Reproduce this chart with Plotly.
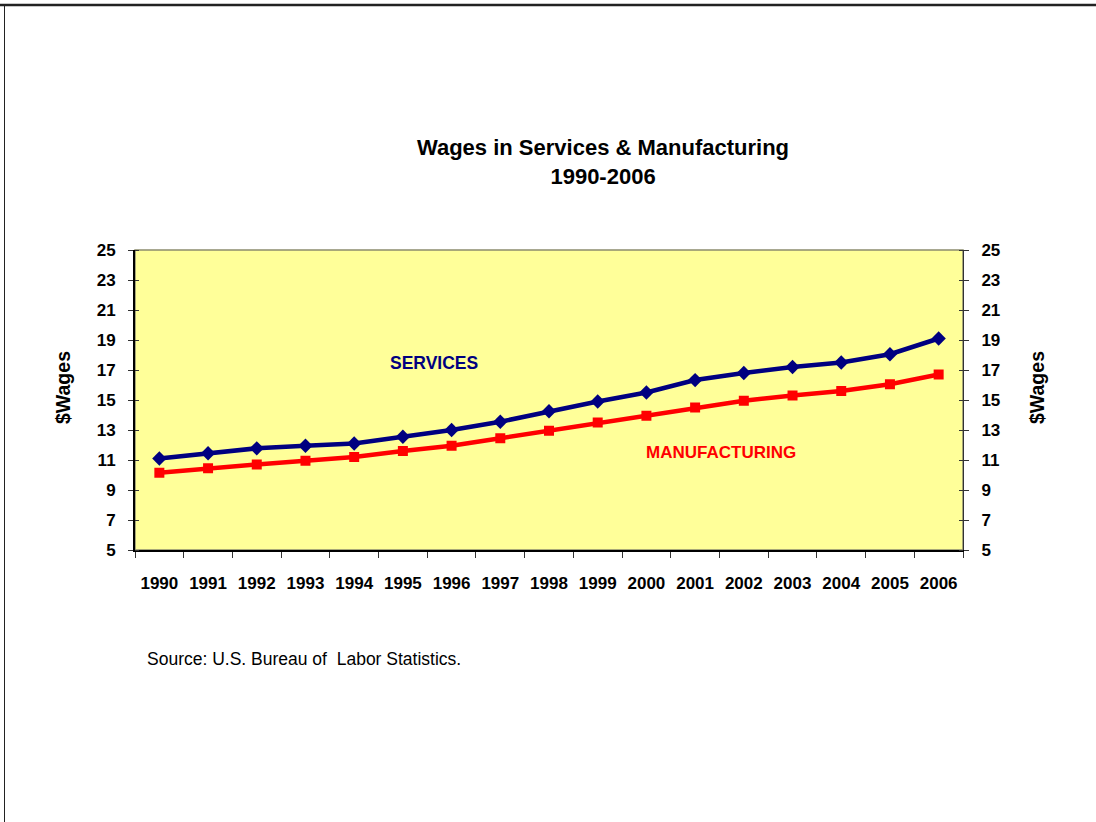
import plotly.graph_objects as go

# Average hourly wages, 1990-2006
years = [str(y) for y in range(1990, 2007)]
services = [11.1, 11.45, 11.78, 11.95, 12.1, 12.55, 13.0, 13.55, 14.25, 14.9, 15.5,
            16.33, 16.8, 17.2, 17.5, 18.05, 19.1]
manufacturing = [10.15, 10.45, 10.7, 10.95, 11.2, 11.6, 11.95, 12.45, 12.95, 13.5, 13.95,
                 14.5, 14.95, 15.3, 15.6, 16.05, 16.7]

y_ticks = list(range(5, 26, 2))

W, H = 1096, 822
L, R, T, B = 135, 963, 250, 550

SANS = "Liberation Sans, Arial, sans-serif"


def px_x(px):
    return (px - L) / (R - L)


def px_y(py):
    return (B - py) / (B - T)


fig = go.Figure()
fig.add_trace(go.Scatter(
    x=years, y=services, mode="lines+markers", name="SERVICES",
    line=dict(color="#000080", width=4.5),
    marker=dict(symbol="diamond", size=11, color="#000080"),
))
fig.add_trace(go.Scatter(
    x=years, y=manufacturing, mode="lines+markers", name="MANUFACTURING",
    line=dict(color="#FF0000", width=4.5),
    marker=dict(symbol="square", size=10, color="#FF0000"),
))

x_font = dict(family=SANS, size=17, color="black", weight="bold")
y_font = dict(family=SANS, size=17, color="black", weight="bold")

fig.update_layout(
    width=W, height=H,
    margin=dict(l=L, r=W - R, t=T, b=H - B, pad=0, autoexpand=False),
    paper_bgcolor="white",
    plot_bgcolor="#FFFF99",
    showlegend=False,
    xaxis=dict(
        type="category", range=[-0.5, len(years) - 0.5],
        showgrid=False, zeroline=False,
        showline=True, linecolor="black", linewidth=2,
        ticks="outside", tickson="boundaries", ticklen=6, tickwidth=1, tickcolor="#333",
        tickfont=x_font, tickangle=0, ticklabelstandoff=17,
    ),
    yaxis=dict(
        range=[5, 25], tickvals=y_ticks, showgrid=False, zeroline=False,
        showline=True, linecolor="black", linewidth=2,
        ticks="outside", ticklen=5, tickwidth=1, tickcolor="#333",
        minor=dict(tickvals=y_ticks, ticks="inside", ticklen=4, tickwidth=1, tickcolor="#333"),
        tickfont=y_font, ticklabelstandoff=9,
    ),
    yaxis2=dict(
        range=[5, 25], tickvals=y_ticks, overlaying="y", side="right",
        showgrid=False, zeroline=False,
        showline=True, linecolor="#333", linewidth=1,
        ticks="outside", ticklen=5, tickwidth=1, tickcolor="#333",
        minor=dict(tickvals=y_ticks, ticks="inside", ticklen=4, tickwidth=1, tickcolor="#333"),
        tickfont=y_font, ticklabelstandoff=9,
    ),
)

# invisible anchor so the right-hand axis is drawn
fig.add_trace(go.Scatter(x=[years[0]], y=[5], yaxis="y2", mode="markers",
                         marker=dict(opacity=0), hoverinfo="skip", showlegend=False))

shapes = [
    # plot-area frame (top and right edges)
    dict(type="rect", xref="paper", yref="paper", x0=0, y0=0, x1=1, y1=1,
         line=dict(color="#8c8c6e", width=1.5), layer="below"),
    # page frame
    dict(type="line", xref="paper", yref="paper", x0=px_x(0), x1=px_x(W),
         y0=px_y(5), y1=px_y(5), line=dict(color="#222", width=2.5)),
    dict(type="line", xref="paper", yref="paper", x0=px_x(4.5), x1=px_x(4.5),
         y0=px_y(5), y1=px_y(H), line=dict(color="#222", width=1)),
]
fig.update_layout(shapes=shapes)

annotations = [
    dict(text="<b>Wages in Services & Manufacturing<br>1990-2006</b>",
         xref="paper", yref="paper", x=px_x(603), y=px_y(162),
         xanchor="center", yanchor="middle", showarrow=False,
         font=dict(family=SANS, size=22, color="black")),
    dict(text="<b>SERVICES</b>", xref="paper", yref="paper", x=px_x(434), y=px_y(363),
         xanchor="center", yanchor="middle", showarrow=False,
         font=dict(family=SANS, size=17.5, color="#000080")),
    dict(text="<b>MANUFACTURING</b>", xref="paper", yref="paper", x=px_x(721), y=px_y(452),
         xanchor="center", yanchor="middle", showarrow=False,
         font=dict(family=SANS, size=17, color="#FF0000")),
    dict(text="<b>$Wages</b>", xref="paper", yref="paper", x=px_x(63), y=px_y(388),
         xanchor="center", yanchor="middle", textangle=-90, showarrow=False,
         font=dict(family=SANS, size=19.5, color="black")),
    dict(text="<b>$Wages</b>", xref="paper", yref="paper", x=px_x(1037), y=px_y(388),
         xanchor="center", yanchor="middle", textangle=-90, showarrow=False,
         font=dict(family=SANS, size=19.5, color="black")),
    dict(text="Source: U.S. Bureau of  Labor Statistics.", xref="paper", yref="paper",
         x=px_x(145), y=px_y(659), xanchor="left", yanchor="middle", showarrow=False,
         font=dict(family=SANS, size=17.5, color="black")),
]
fig.update_layout(annotations=annotations)

fig.write_html("out.html", config=dict(displayModeBar=False))
